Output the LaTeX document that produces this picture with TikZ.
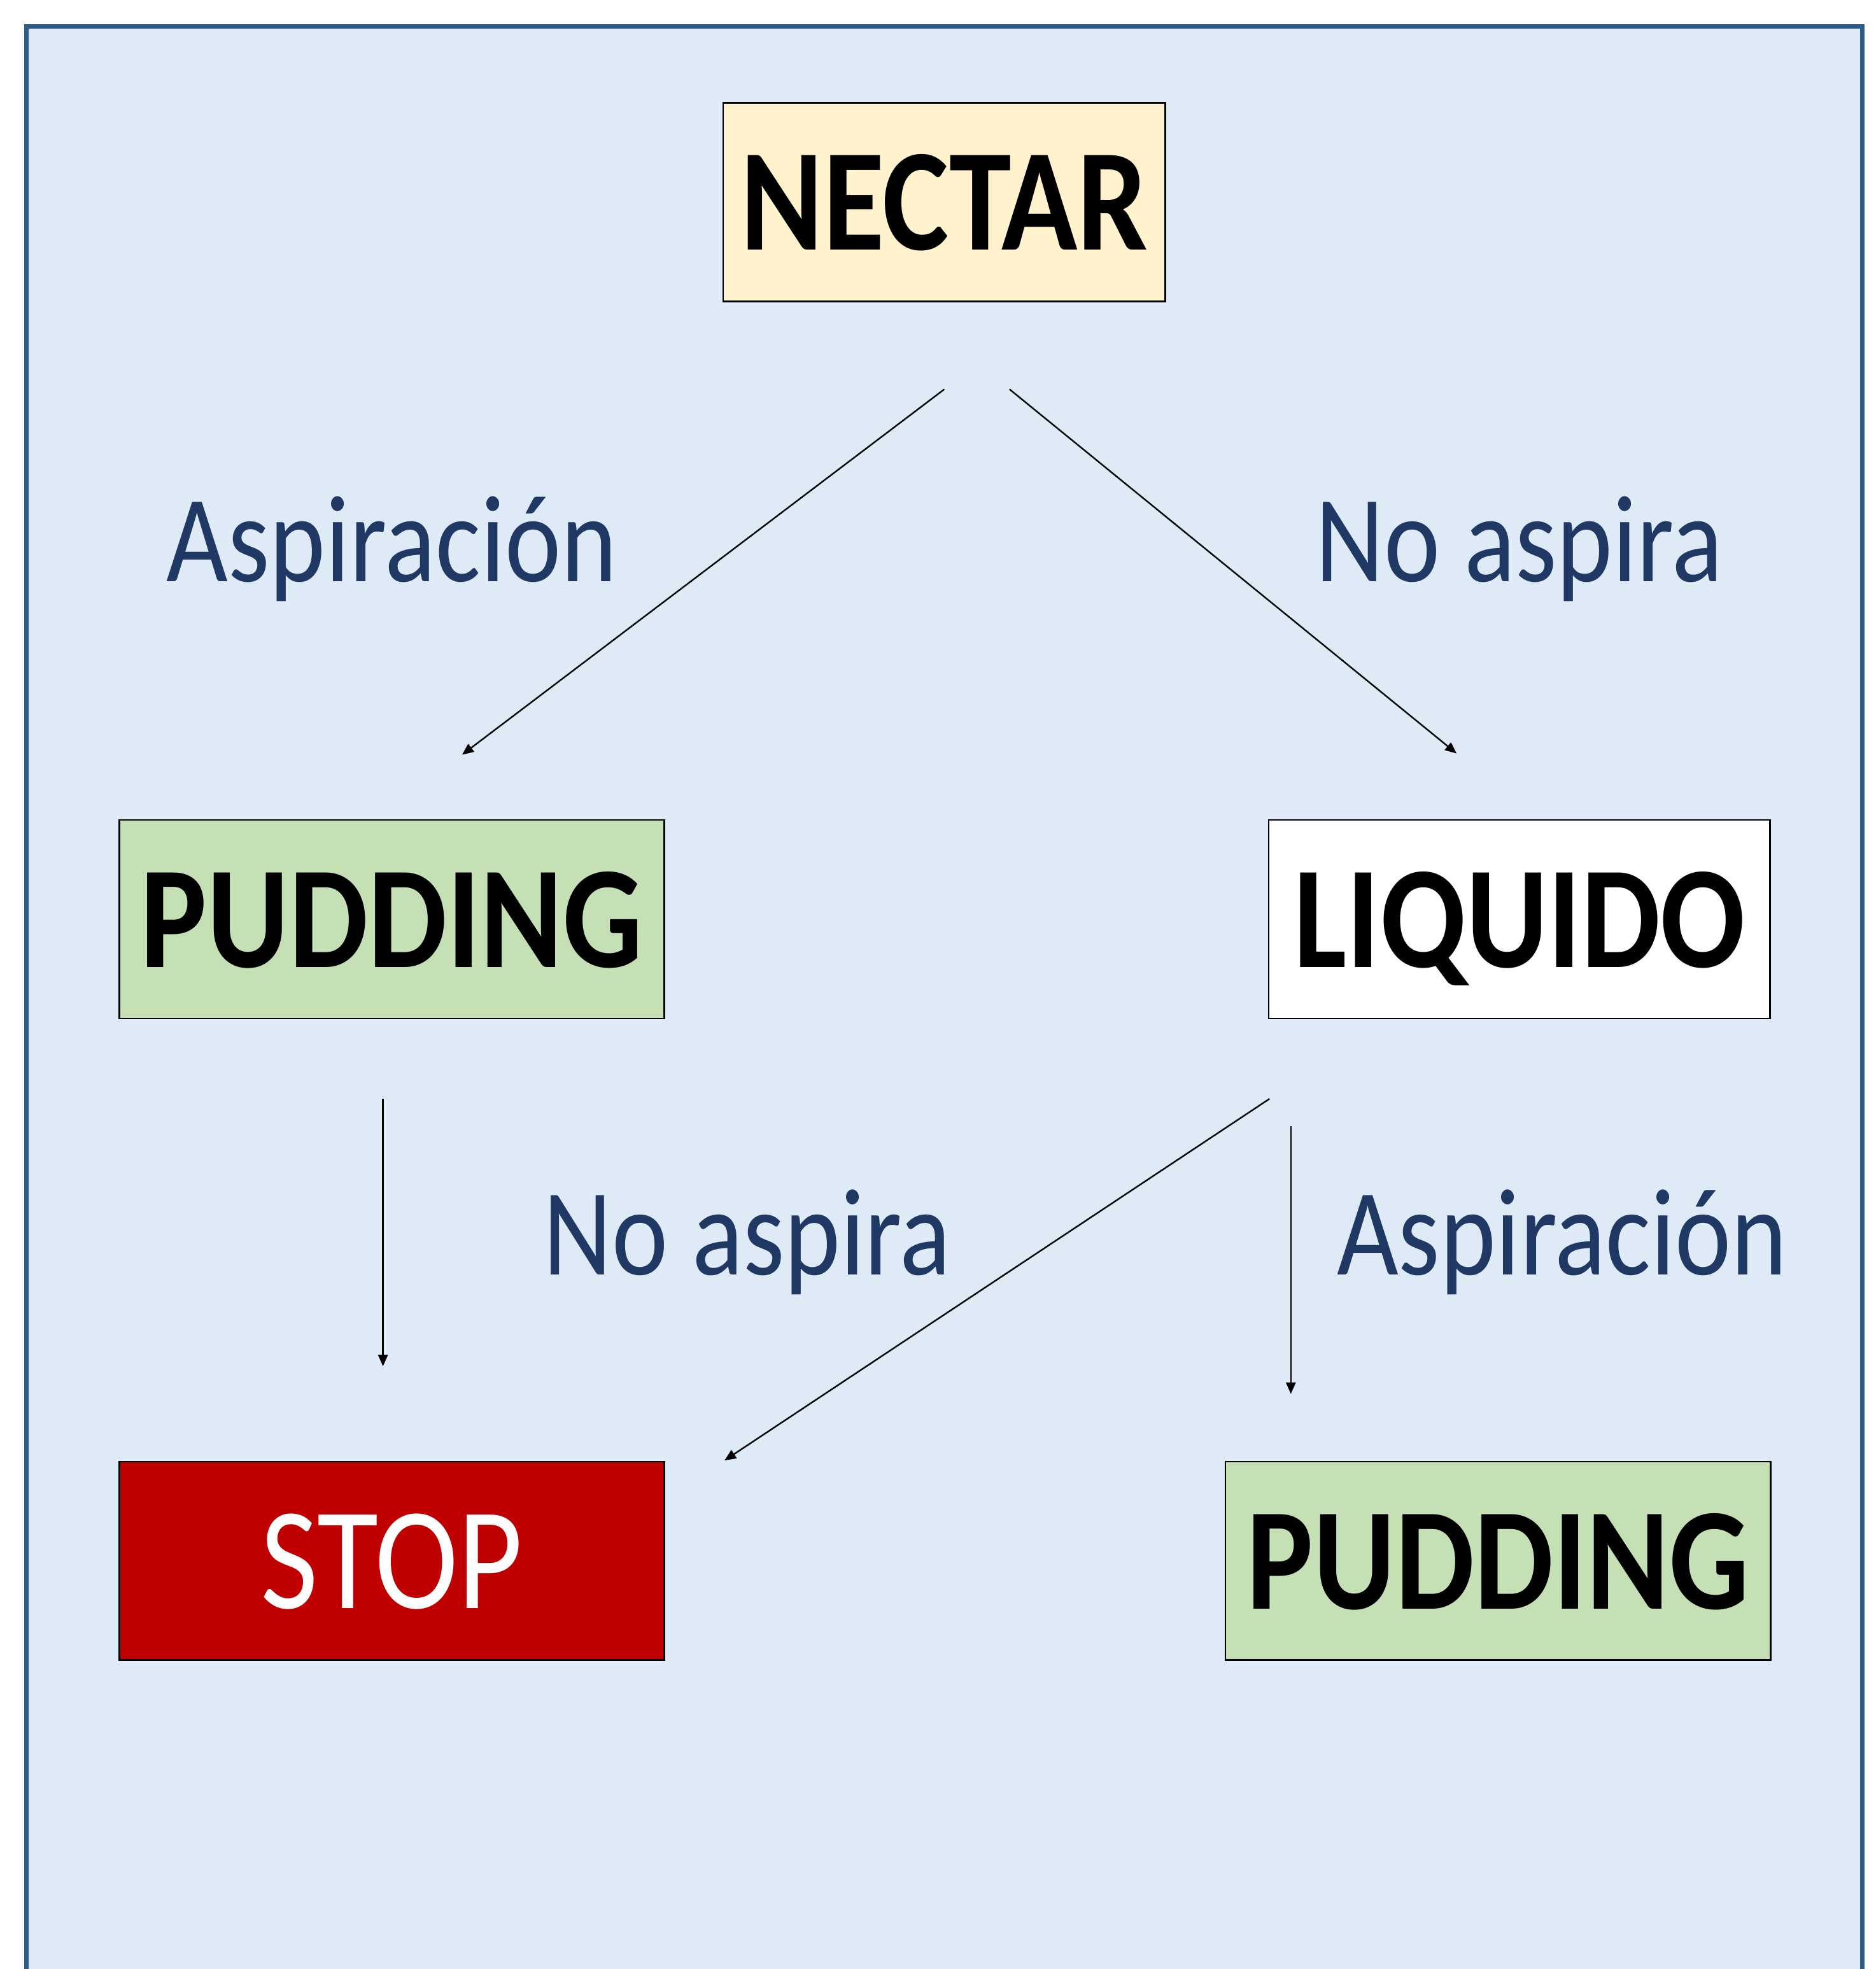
\documentclass[tikz,border=0pt]{standalone}
\usepackage{fontspec}
\setmainfont{Carlito}[FakeStretch=0.86]
\usetikzlibrary{arrows.meta}
\definecolor{bgblue}{HTML}{DEEAF6}
\definecolor{rimblue}{HTML}{2F5A8C}
\definecolor{labblue}{HTML}{1F3864}
\definecolor{nectarfill}{HTML}{FFF2CC}
\definecolor{greenfill}{HTML}{C5E0B4}
\definecolor{stopred}{HTML}{C00000}
\newcommand{\bigfs}{\fontsize{33}{36}\selectfont}
\newcommand{\labfs}{\fontsize{28}{31}\selectfont}

\begin{document}
\begin{tikzpicture}[x=0.01cm, y=-0.01cm,
    box/.style = {draw, line width=0.4pt, minimum height=1.58cm, text depth=0pt, font=\bigfs\bfseries},
    lab/.style = {text=labblue, font=\labfs, anchor=base},
    arr/.style = {-{Triangle[length=2.6pt, width=2.2pt]}, line width=0.35pt}]
    \useasboundingbox (0,0) rectangle (1494,1568);
    \fill[bgblue] (21,21) rectangle (1483,1600);
    \draw[rimblue, line width=1.1pt] (21,1600) -- (21,21) -- (1483,21) -- (1483,1600);

    \node[box, fill=nectarfill, minimum width=3.52cm] (nectar) at (752,161) {NECTAR};
    \foreach \n/\x/\y/\w/\c/\t in {pudA/312/732/4.34cm/greenfill/PUDDING,
                                  liquido/1210/732/3.99cm/white/LIQUIDO,
                                  pudB/1193/1243/4.34cm/greenfill/PUDDING} {
      \node[box, fill=\c, minimum width=\w] (\n) at (\x,\y) {\t};
    }
    \node[box, fill=stopred, text=white, font=\bigfs, minimum width=4.34cm] (stop) at (312,1243) {STOP};

    \node[lab] (asp1) at (312,463) {Aspiración};
    \node[lab] (noasp1) at (1210,463) {No aspira};
    \node[lab] (noasp2) at (595,1015) {No aspira};
    \node[lab] (asp2) at (1244,1015) {Aspiración};

    \coordinate (a1) at (752,310);  \coordinate (b1) at (368,601);
    \coordinate (a2) at (804,310);  \coordinate (b2) at (1160,600);
    \coordinate (a3) at (305,875);  \coordinate (b3) at (305,1088);
    \coordinate (a4) at (1011,875); \coordinate (b4) at (577,1163);
    \coordinate (a5) at (1028,897); \coordinate (b5) at (1028,1110);
    \foreach \i\j in {a1/b1, a2/b2, a3/b3, a4/b4, a5/b5} {
      \draw[arr] (\i) -- (\j);
    }
  \end{tikzpicture}
\end{document}
